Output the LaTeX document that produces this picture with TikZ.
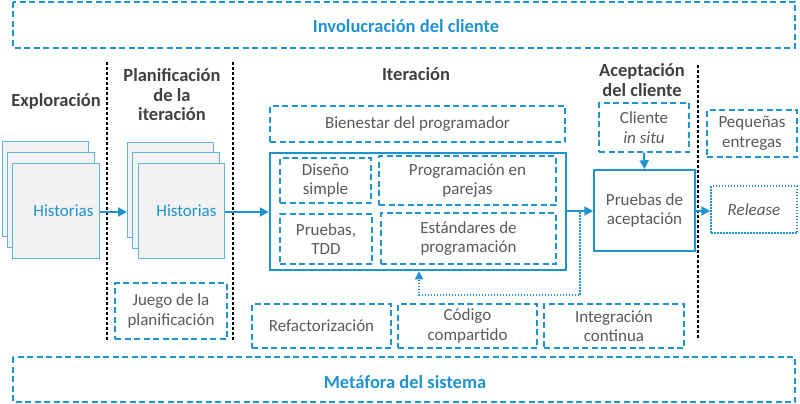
\documentclass[tikz,border=0pt]{standalone}
\usepackage{fontspec}
\setmainfont{Carlito}
\usetikzlibrary{arrows.meta}
\definecolor{xpblue}{HTML}{1F93CF}
\definecolor{xpgray}{HTML}{595959}
\definecolor{xpdark}{HTML}{404040}
\definecolor{xpsheet}{HTML}{F2F2F2}
\newcommand{\xpfont}{\fontsize{17}{19.5}\selectfont}
\newcommand{\xpbold}{\bfseries\fontsize{18.5}{19.5}\selectfont}
\tikzset{
  dbox/.style={draw=xpblue, line width=1.5pt, dash pattern=on 6pt off 3.5pt, text=xpgray, align=center, font=\xpfont, inner sep=0pt},
  sbox/.style={draw=xpblue, line width=1.5pt, text=xpgray, align=center, font=\xpfont, inner sep=0pt},
  dotbox/.style={draw=xpblue, line width=1.5pt, dash pattern=on 1.5pt off 1.5pt, text=xpgray, align=center, font=\xpfont, inner sep=0pt},
  sheet/.style={draw=xpblue!70, fill=xpsheet, line width=1pt, inner sep=0pt},
  head/.style={text=xpdark, font=\xpbold, align=center},
  bluehead/.style={text=xpblue, font=\xpbold},
  arr/.style={draw=xpblue, line width=2pt, -{Triangle[length=9pt,width=9pt]}},
  sep/.style={draw=black, line width=1.3pt, dash pattern=on 3pt off 2pt},
}
\begin{document}
\begin{tikzpicture}[x=1pt,y=-1pt]
\useasboundingbox (0,0) rectangle (800,404);
% top and bottom bands
\draw[dbox] (13,2) rectangle (795,48);
\node[bluehead] (inv) at (406,26) {Involucración del cliente};
\draw[dbox] (13,357) rectangle (795,402);
\node[bluehead] (met) at (405,382) {Metáfora del sistema};
% separators
\coordinate (s1a) at (107,62); \coordinate (s1b) at (107,340);
\coordinate (s2a) at (233,62); \coordinate (s2b) at (233,340);
\coordinate (s3a) at (698,65); \coordinate (s3b) at (698,340);
\draw[sep] (s1a) -- (s1b);
\draw[sep] (s2a) -- (s2b);
\draw[sep] (s3a) -- (s3b);
% headers
\node[head] (h1) at (56,101) {Exploración};
\node[head] (h2) at (172,95) {Planificación\\de la\\iteración};
\node[head] (h3) at (416,74) {Iteración};
\node[head] (h4) at (642,80) {Aceptación\\del cliente};
% stacks
\draw[sheet] (2,141) rectangle (88,236);
\draw[sheet] (7,152) rectangle (94,247);
\node[sheet, minimum width=87pt, minimum height=95pt, anchor=north west, text=xpblue, font=\xpfont, text width=75pt, align=right] (st1) at (12,163) {Historias};
\draw[sheet] (127,142) rectangle (213,237);
\draw[sheet] (132,152) rectangle (219,248);
\node[sheet, minimum width=86pt, minimum height=95pt, anchor=north west, text=xpblue, font=\xpfont, text width=70pt, align=right] (st2) at (138,163) {Historias};
% juego
\node[dbox, minimum width=112pt, minimum height=56pt] (juego) at (171,311) {Juego de la\\planificación};
% iteration
\node[dbox, minimum width=295pt, minimum height=36pt] (bien) at (417.5,124) {Bienestar del programador};
\node[draw=xpblue, line width=2.5pt, minimum width=296pt, minimum height=117pt, inner sep=0pt] (main) at (418,211.5) {};
\node[dbox, minimum width=91pt, minimum height=45pt] (dis) at (325.5,180.5) {Diseño\\simple};
\node[dbox, minimum width=177pt, minimum height=49pt] (prog) at (467.5,180.5) {Programación en\\parejas};
\node[dbox, minimum width=92pt, minimum height=50pt] (tdd) at (326,239) {Pruebas,\\TDD};
\node[dbox, minimum width=175pt, minimum height=51pt] (est) at (468.5,238.5) {Estándares de\\programación};
% bottom practices
\node[dbox, minimum width=139pt, minimum height=44pt] (ref) at (321.5,326) {Refactorización};
\node[dbox, minimum width=139pt, minimum height=44pt] (cod) at (467.5,326) {Código\\compartido};
\node[dbox, minimum width=140pt, minimum height=44pt] (int) at (614,326) {Integración\\continua};
% acceptance
\node[dbox, minimum width=90pt, minimum height=49pt] (cli) at (644,127.5) {Cliente\\\textit{in situ}};
\node[sbox, minimum width=101pt, minimum height=81pt] (acep) at (644.5,210.5) {Pruebas de\\aceptación};
\node[dbox, minimum width=90pt, minimum height=47pt] (peq) at (752,133.5) {Pequeñas\\entregas};
\node[dotbox, minimum width=86pt, minimum height=47pt] (rel) at (754,209.5) {\textit{Release}};
% arrows
\draw[arr] (st1.east |- 0,212) -- (127,212);
\draw[arr] (st2.east |- 0,212) -- (main.west |- 0,212);
\draw[arr] (main.east |- 0,211) -- (acep.west |- 0,211);
\draw[arr] (cli.south) -- (acep.north);
\draw[arr] (acep.east |- 0,211) -- (rel.west |- 0,211);
\coordinate (fb1) at (580,212);
\coordinate (fb2) at (580,295);
\coordinate (fb3) at (419,295);
\draw[draw=xpblue, line width=1.5pt, dash pattern=on 1.5pt off 1.5pt, -{Triangle[length=8pt,width=8pt]}] (fb1) -- (fb2) -- (fb3) -- (fb3 |- main.south);
\end{tikzpicture}
\end{document}
